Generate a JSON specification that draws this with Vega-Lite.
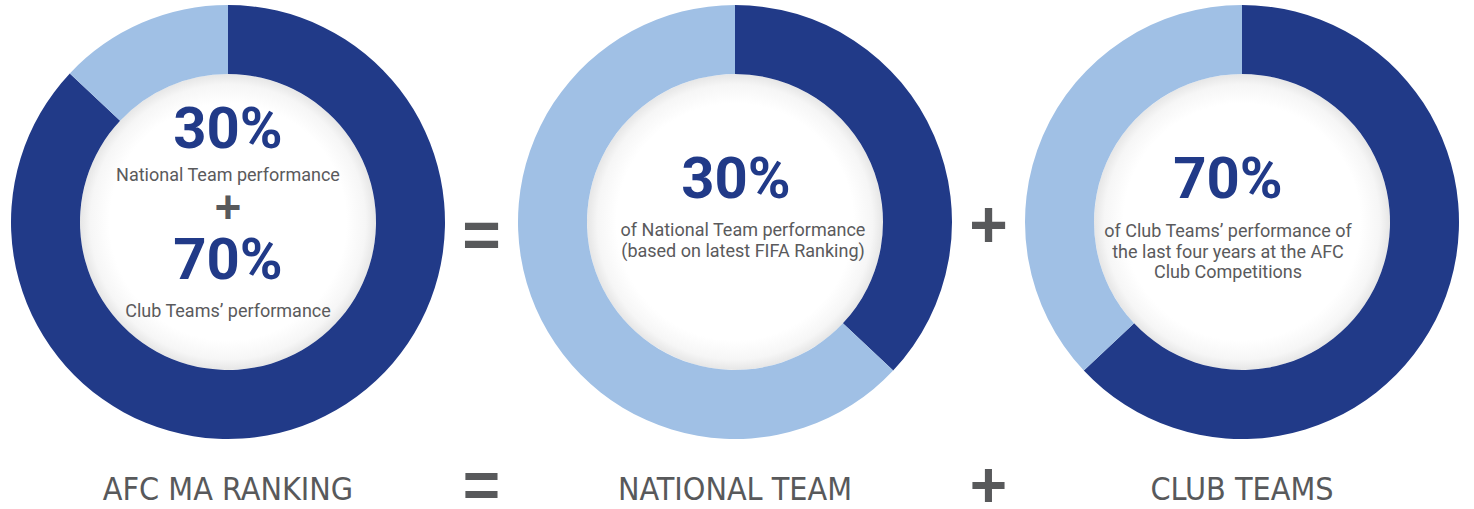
{
  "$schema": "https://vega.github.io/schema/vega-lite/v6.json",
  "width": 1474,
  "height": 509,
  "autosize": {"type": "fit", "contains": "padding"},
  "padding": 0,
  "background": "white",
  "config": {"view": {"stroke": null}},
  "datasets": {
    "slices": [
      {"panel": "A", "row": "donut", "segment": "highlight", "value": 87},
      {"panel": "A", "row": "donut", "segment": "rest", "value": 13},
      {"panel": "B", "row": "donut", "segment": "highlight", "value": 37},
      {"panel": "B", "row": "donut", "segment": "rest", "value": 63},
      {"panel": "C", "row": "donut", "segment": "highlight", "value": 63},
      {"panel": "C", "row": "donut", "segment": "rest", "value": 37}
    ],
    "texts": [
      {"panel": "A", "row": "donut", "role": "pctTop", "text": "30%"},
      {"panel": "A", "row": "donut", "role": "pctBottom", "text": "70%"},
      {"panel": "B", "row": "donut", "role": "pct", "text": "30%"},
      {"panel": "C", "row": "donut", "role": "pctC", "text": "70%"},
      {"panel": "A", "row": "donut", "role": "bodyTop", "text": "National Team performance"},
      {"panel": "A", "row": "donut", "role": "bodyBottom", "text": "Club Teams’ performance"},
      {"panel": "B", "row": "donut", "role": "multi", "text": ["of National Team performance", "(based on latest FIFA Ranking)"]},
      {"panel": "C", "row": "donut", "role": "multiC", "text": ["of Club Teams’ performance of", "the last four years at the AFC", "Club Competitions"]},
      {"panel": "A", "row": "donut", "role": "smallplus", "text": "+"},
      {"panel": "op1", "row": "donut", "role": "opEq", "text": "="},
      {"panel": "op2", "row": "donut", "role": "opPlus", "text": "+"},
      {"panel": "op1", "row": "title", "role": "op", "text": "="},
      {"panel": "op2", "row": "title", "role": "op", "text": "+"},
      {"panel": "A", "row": "title", "role": "title", "text": "AFC MA RANKING"},
      {"panel": "B", "row": "title", "role": "title", "text": "NATIONAL TEAM"},
      {"panel": "C", "row": "title", "role": "title", "text": "CLUB TEAMS"}
    ]
  },
  "encoding": {
    "x": {"field": "panel", "type": "nominal", "axis": null,
      "scale": {"type": "point", "domain": ["A", "op1", "B", "op2", "C"], "range": [228, 1242], "padding": 0}},
    "y": {"field": "row", "type": "nominal", "axis": null,
      "scale": {"type": "point", "domain": ["donut", "title"], "range": [222, 490], "padding": 0}}
  },
  "layer": [
    {
      "data": {"name": "slices"},
      "transform": [{"filter": "datum.segment === 'highlight'"}],
      "mark": {"type": "arc", "radius": 148, "radius2": 0, "theta": 0, "theta2": 6.2832,
        "fill": {"gradient": "radial", "x1": 0.5, "y1": 0.5, "x2": 0.5, "y2": 0.5, "r1": 0, "r2": 0.5,
          "stops": [{"offset": 0, "color": "#ffffff"}, {"offset": 0.8, "color": "#ffffff"}, {"offset": 0.93, "color": "#f6f6f6"}, {"offset": 1, "color": "#e6e6e6"}]}},
      "encoding": {}
    },
    {
      "data": {"name": "slices"},
      "transform": [{"filter": "datum.panel === 'A'"}],
      "mark": {"type": "arc", "radius": 217, "radius2": 148},
      "encoding": {
        "theta": {"field": "value", "type": "quantitative", "stack": true, "scale": {"domain": [0, 100]}},
        "order": {"field": "segment", "sort": "ascending"},
        "color": {"field": "segment", "type": "nominal", "legend": null,
          "scale": {"domain": ["highlight", "rest"], "range": ["#213a88", "#a0c0e5"]}}
      }
    },
    {
      "data": {"name": "slices"},
      "transform": [{"filter": "datum.panel === 'B'"}],
      "mark": {"type": "arc", "radius": 217, "radius2": 148},
      "encoding": {
        "theta": {"field": "value", "type": "quantitative", "stack": true, "scale": {"domain": [0, 100]}},
        "order": {"field": "segment", "sort": "ascending"},
        "color": {"field": "segment", "type": "nominal", "legend": null}
      }
    },
    {
      "data": {"name": "slices"},
      "transform": [{"filter": "datum.panel === 'C'"}],
      "mark": {"type": "arc", "radius": 217, "radius2": 148},
      "encoding": {
        "theta": {"field": "value", "type": "quantitative", "stack": true, "scale": {"domain": [0, 100]}},
        "order": {"field": "segment", "sort": "ascending"},
        "color": {"field": "segment", "type": "nominal", "legend": null}
      }
    },
    {
      "data": {"name": "texts"},
      "transform": [{"filter": "datum.role === 'pctTop'"}],
      "mark": {"type": "text", "font": "Roboto", "fontWeight": "bold", "fontSize": 58, "color": "#213a88", "align": "center", "baseline": "middle", "dy": -91},
      "encoding": {"text": {"field": "text"}}
    },
    {
      "data": {"name": "texts"},
      "transform": [{"filter": "datum.role === 'pctBottom'"}],
      "mark": {"type": "text", "font": "Roboto", "fontWeight": "bold", "fontSize": 58, "color": "#213a88", "align": "center", "baseline": "middle", "dy": 40},
      "encoding": {"text": {"field": "text"}}
    },
    {
      "data": {"name": "texts"},
      "transform": [{"filter": "datum.role === 'pct'"}],
      "mark": {"type": "text", "font": "Roboto", "fontWeight": "bold", "fontSize": 58, "color": "#213a88", "align": "center", "baseline": "middle", "dx": 1, "dy": -41},
      "encoding": {"text": {"field": "text"}}
    },
    {
      "data": {"name": "texts"},
      "transform": [{"filter": "datum.role === 'pctC'"}],
      "mark": {"type": "text", "font": "Roboto", "fontWeight": "bold", "fontSize": 58, "color": "#213a88", "align": "center", "baseline": "middle", "dx": -14, "dy": -41},
      "encoding": {"text": {"field": "text"}}
    },
    {
      "data": {"name": "texts"},
      "transform": [{"filter": "datum.role === 'bodyTop'"}],
      "mark": {"type": "text", "font": "Roboto", "fontSize": 18, "color": "#5a5a5c", "align": "center", "baseline": "middle", "dy": -46},
      "encoding": {"text": {"field": "text"}}
    },
    {
      "data": {"name": "texts"},
      "transform": [{"filter": "datum.role === 'bodyBottom'"}],
      "mark": {"type": "text", "font": "Roboto", "fontSize": 18, "color": "#5a5a5c", "align": "center", "baseline": "middle", "dy": 90},
      "encoding": {"text": {"field": "text"}}
    },
    {
      "data": {"name": "texts"},
      "transform": [{"filter": "datum.role === 'multi'"}],
      "mark": {"type": "text", "font": "Roboto", "fontSize": 18, "lineHeight": 21, "color": "#5a5a5c", "align": "center", "baseline": "top", "dx": 8, "dy": 0},
      "encoding": {"text": {"field": "text"}}
    },
    {
      "data": {"name": "texts"},
      "transform": [{"filter": "datum.role === 'multiC'"}],
      "mark": {"type": "text", "font": "Roboto", "fontSize": 18, "lineHeight": 20.5, "color": "#5a5a5c", "align": "center", "baseline": "top", "dx": -14, "dy": 1},
      "encoding": {"text": {"field": "text"}}
    },
    {
      "data": {"name": "texts"},
      "transform": [{"filter": "datum.role === 'smallplus'"}],
      "mark": {"type": "text", "font": "Liberation Sans", "fontWeight": "bold", "fontSize": 46, "color": "#58595b", "align": "center", "baseline": "middle", "dy": -13},
      "encoding": {"text": {"field": "text"}}
    },
    {
      "data": {"name": "texts"},
      "transform": [{"filter": "datum.role === 'opEq'"}],
      "mark": {"type": "text", "font": "Liberation Sans", "fontWeight": "bold", "fontSize": 66, "color": "#58595b", "align": "center", "baseline": "middle", "dy": 16},
      "encoding": {"text": {"field": "text"}}
    },
    {
      "data": {"name": "texts"},
      "transform": [{"filter": "datum.role === 'opPlus'"}],
      "mark": {"type": "text", "font": "Liberation Sans", "fontWeight": "bold", "fontSize": 66, "color": "#58595b", "align": "center", "baseline": "middle", "dy": 5},
      "encoding": {"text": {"field": "text"}}
    },
    {
      "data": {"name": "texts"},
      "transform": [{"filter": "datum.role === 'op'"}],
      "mark": {"type": "text", "font": "Liberation Sans", "fontWeight": "bold", "fontSize": 64, "color": "#58595b", "align": "center", "baseline": "middle", "dy": -2},
      "encoding": {"text": {"field": "text"}}
    },
    {
      "data": {"name": "texts"},
      "transform": [{"filter": "datum.role === 'title'"}],
      "mark": {"type": "text", "font": "DejaVu Sans Condensed", "fontSize": 32, "color": "#58595b", "align": "center", "baseline": "middle"},
      "encoding": {"text": {"field": "text"}}
    }
  ]
}
